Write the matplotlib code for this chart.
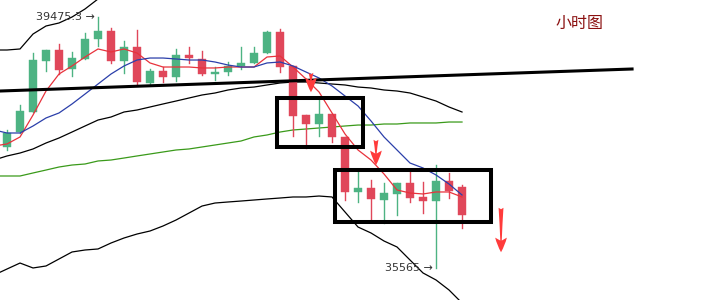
import numpy as np
import matplotlib.pyplot as plt
from matplotlib.patches import Rectangle

plt.rcParams['font.family'] = ['DejaVu Sans', 'Noto Sans CJK SC']

# Candles (hourly)
opens  = [37450, 37683, 37995, 38790, 38961, 38665, 38821, 39132, 39257, 38790,
          39008, 38447, 38634, 38540, 38883, 38821, 38587, 38618, 38712, 38758,
          38914, 39241, 38712, 37948, 37808, 37964, 37605, 36749, 36811, 36624,
          36717, 36889, 36671, 36608, 36920, 36827]
highs  = [37715, 38104, 38914, 38961, 39054, 38930, 39226, 39475, 39304, 39101,
          39273, 38665, 38696, 38977, 39008, 38945, 38696, 38774, 39008, 39008,
          39257, 39288, 38712, 37948, 38182, 37964, 37605, 37060, 36936, 36889,
          36889, 37060, 36904, 37169, 37045, 36858]
lows   = [37403, 37668, 37995, 38634, 38587, 38556, 38821, 39023, 38758, 38603,
          38431, 38431, 38462, 38478, 38758, 38572, 38494, 38572, 38665, 38758,
          38914, 38618, 37621, 37434, 37621, 37528, 36624, 36593, 36328, 36266,
          36390, 36593, 36421, 35565, 36655, 36188]
closes = [37668, 38011, 38805, 38961, 38649, 38836, 39132, 39257, 38790, 39008,
          38462, 38634, 38540, 38883, 38836, 38587, 38618, 38712, 38758, 38914,
          39241, 38696, 37933, 37808, 37964, 37605, 36749, 36811, 36640, 36733,
          36889, 36655, 36608, 36920, 36764, 36390]

# Moving averages, from index -1
ma_red  = [37465, 37497, 37606, 37948, 38322, 38587, 38712, 38852, 38977, 38930,
           38977, 38914, 38759, 38696, 38696, 38696, 38681, 38681, 38696, 38696,
           38696, 38852, 38868, 38696, 38509, 38307, 37980, 37652, 37403, 37247,
           37029, 36780, 36733, 36718, 36749, 36749, 36671]
ma_blue = [37715, 37668, 37668, 37777, 37902, 37980, 38120, 38275, 38431, 38587,
           38712, 38805, 38836, 38836, 38821, 38805, 38805, 38774, 38727, 38696,
           38696, 38759, 38774, 38712, 38618, 38525, 38400, 38244, 38089, 37855,
           37606, 37403, 37200, 37123, 37014, 36873, 36702]

# Bands, from index -1
band_top = [38961, 38961, 38977, 39210, 39335, 39382, 39475, 39600, 39756, 39865]
band_up  = [37247, 37310, 37356, 37419, 37512, 37590, 37683, 37777, 37870, 37917,
            37995, 38026, 38073, 38120, 38166, 38213, 38260, 38291, 38338, 38369,
            38384, 38416, 38447, 38462, 38462, 38447, 38431, 38416, 38384, 38369,
            38338, 38322, 38291, 38229, 38166, 38073, 37995]
band_mid = [36998, 36998, 36998, 37045, 37091, 37138, 37169, 37185, 37232, 37247,
            37278, 37310, 37341, 37372, 37403, 37419, 37450, 37481, 37512, 37543,
            37606, 37637, 37683, 37715, 37730, 37746, 37761, 37777, 37792, 37792,
            37808, 37808, 37824, 37824, 37824, 37839, 37839]
band_low = [35455, 35549, 35642, 35565, 35596, 35705, 35814, 35845, 35861, 35954,
            36032, 36094, 36141, 36219, 36312, 36421, 36530, 36577, 36593, 36608,
            36624, 36640, 36655, 36671, 36671, 36686, 36671, 36437, 36203, 36110,
            35985, 35892, 35689, 35487, 35378, 35222, 35019]

# Drawn trend line, boxes and arrows
trend_x = [-0.54, 48.08]
trend_y = [38322, 38665]
boxes = [(20.77, 37450, 27.38, 38213), (25.23, 36281, 37.23, 37091)]
arrows = [(23.38, 38649, 38260), (28.38, 37605, 37123), (38.0, 36546, 35767)]

up_col = '#4db383'
dn_col = '#e0475a'

fig = plt.figure(figsize=(7.15, 3.0), dpi=100)
ax = fig.add_axes([0, 0, 1, 1])
ax.set_xlim(-0.54, 54.46)
ax.set_ylim(35066, 39740)
ax.axis('off')

idx = np.arange(len(opens))
ext = np.arange(-1, len(opens))

ax.plot(ext[:len(band_top)], band_top, color='black', lw=0.9)
ax.plot(ext, band_up, color='black', lw=0.9)
ax.plot(ext, band_mid, color='#3a9a1a', lw=0.9)
ax.plot(ext, band_low, color='black', lw=0.9)

w = 0.66
for i in idx:
    o, h, l, c = opens[i], highs[i], lows[i], closes[i]
    col = up_col if c >= o else dn_col
    ax.plot([i, i], [l, h], color=col, lw=1.0, zorder=3)
    ax.add_patch(Rectangle((i - w / 2, min(o, c)), w, max(abs(c - o), 15),
                           facecolor=col, edgecolor=col, lw=0.3, zorder=3))

ax.plot(ext, ma_red, color='#e8323c', lw=0.9, zorder=4)
ax.plot(ext, ma_blue, color='#2b3faa', lw=0.9, zorder=4)

ax.plot(trend_x, trend_y, color='black', lw=2.2, zorder=5)

for x0, y0, x1, y1 in boxes:
    ax.add_patch(Rectangle((x0, y0), x1 - x0, y1 - y0, fill=False,
                           edgecolor='black', lw=2.9, zorder=6))

for x, y0, y1 in arrows:
    ax.annotate('', xy=(x, y1), xytext=(x, y0), zorder=7,
                arrowprops=dict(arrowstyle='fancy,head_length=0.75,head_width=0.6,tail_width=0.25',
                                color='#ff3b3b', lw=0, mutation_scale=14))

hi_i = int(np.argmax(highs))
lo_i = int(np.argmin(lows))
ax.annotate('39475.3 →', xy=(hi_i, highs[hi_i]), xytext=(-2, 0),
            textcoords='offset points', ha='right', va='center',
            fontsize=8, color='#333333')
ax.annotate('35565 →', xy=(lo_i, lows[lo_i]), xytext=(-2, 0),
            textcoords='offset points', ha='right', va='center',
            fontsize=8, color='#333333')

fig.text(0.811, 0.923, '小时图', ha='center', va='center', fontsize=11.5,
         color='#8b1010', family=['Noto Sans CJK SC', 'DejaVu Sans'])

fig.savefig('out.png', dpi=100)
